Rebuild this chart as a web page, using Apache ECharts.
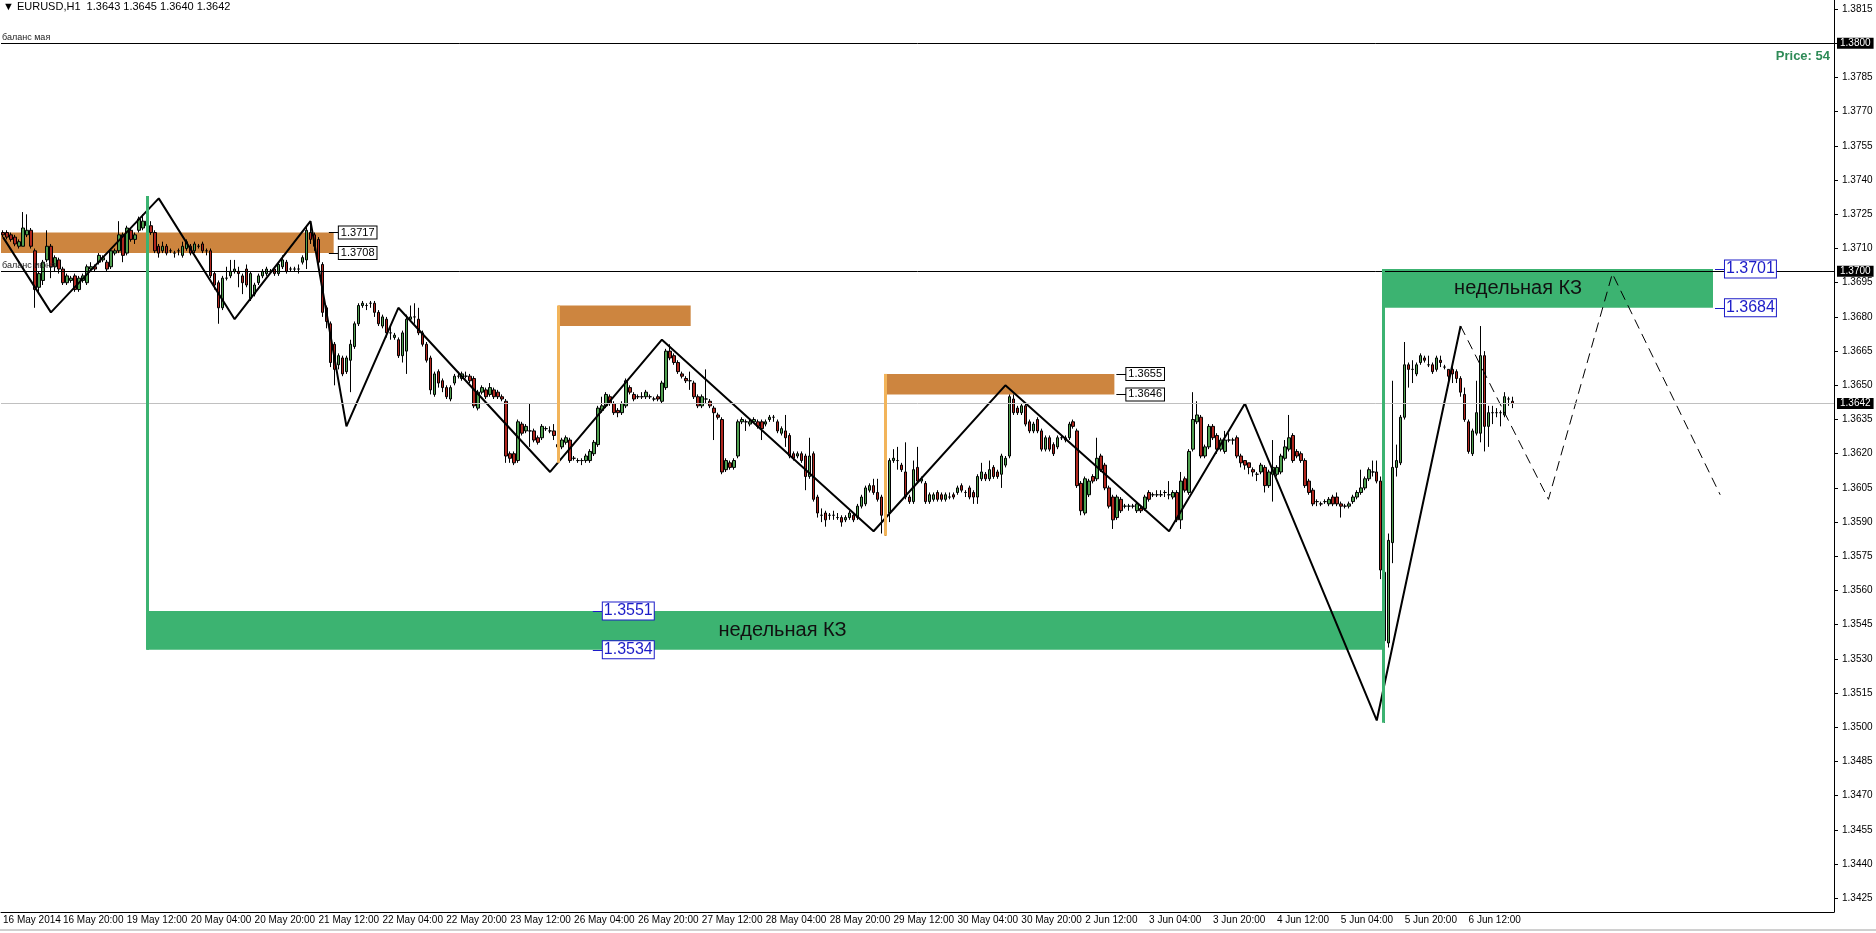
<!DOCTYPE html>
<html>
<head>
<meta charset="utf-8">
<title>EURUSD,H1</title>
<script src="https://cdn.jsdelivr.net/npm/echarts@6/dist/echarts.min.js"></script>
<style>
  html, body { margin: 0; padding: 0; background: #fff; }
  #chart { width: 1876px; height: 933px; }
</style>
</head>
<body>
<div id="chart"></div>
<script>
// H1 bars, first visible bar is 16 May 05:00, weekends skipped
const tradingDays = ['16 May', '19 May', '20 May', '21 May', '22 May', '23 May', '26 May', '27 May',
  '28 May', '29 May', '30 May', '2 Jun', '3 Jun', '4 Jun', '5 Jun', '6 Jun'];
const firstHour = 5;
const firstLabel = '16 May 2014';
const barCount = 459; // bars + empty shift area on the right
const labelEvery = 16;
const labelPhase = 15;
const lastLabelBar = 367;

// candles: [open, close, low, high]
const candles16May = [
  [1.3717,1.3716,1.3715,1.3718],[1.3717,1.3715,1.3714,1.3718],[1.3716,1.3714,1.3713,1.3717],
  [1.3715,1.3712,1.3711,1.3716],[1.3711,1.3713,1.3710,1.3714],[1.3711,1.3719,1.3711,1.3726],[1.3716,1.3718,1.3715,1.3725],
  [1.3718,1.3711,1.3710,1.3719],[1.3709,1.3692,1.3684,1.3710],[1.3693,1.3699,1.3690,1.3700],[1.3696,1.3704,1.3694,1.3705],
  [1.3705,1.3711,1.3704,1.3718],[1.3711,1.3702,1.3697,1.3712],[1.3702,1.3706,1.3700,1.3707],[1.3705,1.3701,1.3699,1.3706],
  [1.3701,1.3695,1.3694,1.3702],[1.3695,1.3698,1.3694,1.3699],[1.3696,1.3697,1.3695,1.3698],[1.3698,1.3692,1.3691,1.3699]
];
const candlesWeek19May = [
  [1.3692,1.3697,1.3691,1.3698],[1.3696,1.3698,1.3695,1.3699],[1.3695,1.3702,1.3694,1.3703],[1.3701,1.3702,1.3700,1.3704],
  [1.3702,1.3701,1.3700,1.3703],[1.3704,1.3707,1.3703,1.3708],[1.3705,1.3706,1.3704,1.3707],[1.3704,1.3701,1.3700,1.3705],
  [1.3702,1.3709,1.3701,1.3710],[1.3708,1.3709,1.3707,1.3710],[1.3709,1.3716,1.3708,1.3722],[1.3716,1.3707,1.3704,1.3717],
  [1.3708,1.3719,1.3707,1.3720],[1.3718,1.3714,1.3713,1.3719],[1.3714,1.3716,1.3712,1.3717],[1.3718,1.3723,1.3717,1.3724],
  [1.3719,1.3722,1.3718,1.3725],[1.3722,1.3720,1.3719,1.3733],[1.3720,1.3717,1.3716,1.3722],[1.3717,1.3709,1.3708,1.3718],
  [1.3711,1.3708,1.3706,1.3712],[1.3709,1.3711,1.3708,1.3713],[1.3711,1.3708,1.3707,1.3712],[1.3709,1.3709,1.3708,1.3710],
  [1.3708,1.3708,1.3706,1.3709],[1.3709,1.3709,1.3707,1.3710],[1.3707,1.3711,1.3706,1.3713],[1.3710,1.3713,1.3709,1.3714],
  [1.3711,1.3708,1.3707,1.3712],[1.3709,1.3712,1.3708,1.3713],[1.3711,1.3711,1.3710,1.3712],[1.3712,1.3709,1.3708,1.3713],
  [1.3709,1.3709,1.3707,1.3710],[1.3709,1.3698,1.3697,1.3710],[1.3699,1.3694,1.3692,1.3700],[1.3695,1.3684,1.3677,1.3696],
  [1.3684,1.3697,1.3683,1.3698],[1.3697,1.3697,1.3696,1.3702],[1.3698,1.3700,1.3697,1.3705],[1.3700,1.3701,1.3699,1.3705],
  [1.3700,1.3699,1.3693,1.3702],[1.3698,1.3695,1.3690,1.3699],[1.3701,1.3694,1.3693,1.3703],[1.3688,1.3699,1.3687,1.3700],
  [1.3690,1.3694,1.3689,1.3695],[1.3695,1.3698,1.3694,1.3699],[1.3698,1.3700,1.3697,1.3701],[1.3699,1.3701,1.3698,1.3702],
  [1.3700,1.3700,1.3699,1.3701],[1.3701,1.3699,1.3698,1.3702],[1.3699,1.3703,1.3698,1.3704],[1.3702,1.3705,1.3701,1.3707],
  [1.3704,1.3700,1.3699,1.3705],[1.3701,1.3701,1.3700,1.3702],[1.3701,1.3701,1.3700,1.3702],[1.3701,1.3701,1.3699,1.3703],
  [1.3704,1.3706,1.3703,1.3707],[1.3705,1.3718,1.3701,1.3720],[1.3717,1.3714,1.3712,1.3722],[1.3716,1.3711,1.3709,1.3717],
  [1.3714,1.3704,1.3702,1.3715],[1.3703,1.3682,1.3680,1.3704],[1.3684,1.3678,1.3675,1.3685],[1.3677,1.3660,1.3658,1.3678],
  [1.3668,1.3657,1.3650,1.3669],[1.3659,1.3663,1.3657,1.3664],[1.3662,1.3655,1.3654,1.3663],[1.3656,1.3662,1.3655,1.3663],
  [1.3661,1.3668,1.3647,1.3670],[1.3667,1.3677,1.3666,1.3678],[1.3677,1.3685,1.3676,1.3686],[1.3685,1.3686,1.3684,1.3687],
  [1.3685,1.3685,1.3683,1.3686],[1.3686,1.3686,1.3684,1.3687],[1.3686,1.3682,1.3680,1.3687],[1.3682,1.3677,1.3676,1.3683],
  [1.3676,1.3680,1.3675,1.3681],[1.3679,1.3673,1.3671,1.3680],[1.3673,1.3673,1.3670,1.3676],[1.3671,1.3672,1.3670,1.3673],
  [1.3670,1.3663,1.3662,1.3671],[1.3663,1.3673,1.3660,1.3674],[1.3665,1.3679,1.3655,1.3681],[1.3679,1.3680,1.3678,1.3685],
  [1.3680,1.3680,1.3677,1.3686],[1.3679,1.3673,1.3672,1.3684],[1.3673,1.3668,1.3667,1.3674],[1.3668,1.3661,1.3660,1.3669],
  [1.3662,1.3648,1.3646,1.3663],[1.3646,1.3655,1.3645,1.3656],[1.3656,1.3651,1.3649,1.3657],[1.3652,1.3649,1.3647,1.3653],
  [1.3649,1.3645,1.3644,1.3650],[1.3644,1.3649,1.3643,1.3650],[1.3651,1.3654,1.3650,1.3655],[1.3654,1.3654,1.3653,1.3656],
  [1.3653,1.3655,1.3652,1.3656],[1.3654,1.3654,1.3653,1.3656],[1.3654,1.3652,1.3651,1.3655],[1.3653,1.3641,1.3640,1.3654],
  [1.3640,1.3647,1.3639,1.3648],[1.3647,1.3649,1.3646,1.3650],[1.3648,1.3645,1.3644,1.3649],[1.3646,1.3649,1.3645,1.3651],
  [1.3648,1.3645,1.3644,1.3649],[1.3647,1.3645,1.3644,1.3648],[1.3645,1.3644,1.3643,1.3646],[1.3643,1.3619,1.3616,1.3644],
  [1.3620,1.3618,1.3616,1.3621],[1.3620,1.3616,1.3615,1.3621],[1.3617,1.3634,1.3616,1.3635],[1.3633,1.3629,1.3628,1.3634],
  [1.3630,1.3632,1.3629,1.3633],[1.3630,1.3630,1.3623,1.3642],[1.3630,1.3626,1.3625,1.3631],[1.3627,1.3625,1.3624,1.3628],
  [1.3627,1.3632,1.3626,1.3633],[1.3631,1.3631,1.3630,1.3632],[1.3630,1.3630,1.3629,1.3632],[1.3630,1.3628,1.3626,1.3633]
];
const candlesWeek26May = [
  [1.3624,1.3623,1.3616,1.3635],[1.3623,1.3626,1.3622,1.3627],[1.3625,1.3627,1.3624,1.3628],[1.3626,1.3617,1.3616,1.3627],
  [1.3618,1.3618,1.3617,1.3619],[1.3617,1.3617,1.3616,1.3618],[1.3617,1.3617,1.3615,1.3618],[1.3617,1.3619,1.3616,1.3620],
  [1.3617,1.3621,1.3616,1.3622],[1.3620,1.3625,1.3619,1.3626],[1.3624,1.3640,1.3623,1.3641],[1.3639,1.3641,1.3638,1.3645],
  [1.3641,1.3646,1.3640,1.3647],[1.3645,1.3642,1.3641,1.3646],[1.3642,1.3638,1.3637,1.3643],[1.3639,1.3638,1.3636,1.3640],
  [1.3638,1.3642,1.3637,1.3643],[1.3641,1.3652,1.3640,1.3653],[1.3649,1.3647,1.3646,1.3650],[1.3646,1.3644,1.3643,1.3647],
  [1.3645,1.3645,1.3644,1.3646],[1.3645,1.3645,1.3644,1.3647],[1.3645,1.3647,1.3644,1.3648],[1.3645,1.3645,1.3644,1.3646],
  [1.3644,1.3644,1.3643,1.3645],[1.3645,1.3644,1.3643,1.3646],[1.3643,1.3651,1.3642,1.3652],[1.3649,1.3665,1.3648,1.3666],
  [1.3665,1.3662,1.3661,1.3668],[1.3663,1.3660,1.3659,1.3664],[1.3660,1.3656,1.3655,1.3661],[1.3655,1.3654,1.3653,1.3656],
  [1.3653,1.3652,1.3651,1.3654],[1.3652,1.3652,1.3648,1.3656],[1.3651,1.3645,1.3644,1.3652],[1.3645,1.3641,1.3640,1.3646],
  [1.3641,1.3645,1.3640,1.3646],[1.3644,1.3644,1.3642,1.3657],[1.3643,1.3641,1.3640,1.3644],[1.3640,1.3638,1.3626,1.3641],
  [1.3637,1.3636,1.3635,1.3638],[1.3635,1.3612,1.3611,1.3636],[1.3613,1.3617,1.3612,1.3618],[1.3616,1.3614,1.3613,1.3617],
  [1.3614,1.3617,1.3613,1.3618],[1.3619,1.3634,1.3618,1.3635],[1.3634,1.3635,1.3633,1.3636],[1.3634,1.3634,1.3630,1.3635],
  [1.3633,1.3634,1.3632,1.3635],[1.3634,1.3635,1.3634,1.3636],[1.3634,1.3632,1.3631,1.3635],[1.3634,1.3631,1.3626,1.3635],
  [1.3633,1.3634,1.3632,1.3635],[1.3635,1.3636,1.3634,1.3637],[1.3636,1.3636,1.3634,1.3637],[1.3634,1.3630,1.3629,1.3635],
  [1.3629,1.3631,1.3628,1.3632],[1.3630,1.3627,1.3623,1.3637],[1.3628,1.3619,1.3618,1.3629],[1.3620,1.3618,1.3617,1.3621],
  [1.3619,1.3620,1.3618,1.3621],[1.3620,1.3617,1.3616,1.3621],[1.3619,1.3610,1.3604,1.3620],[1.3610,1.3619,1.3609,1.3627],
  [1.3620,1.3600,1.3599,1.3621],[1.3601,1.3594,1.3592,1.3602],[1.3593,1.3593,1.3590,1.3596],[1.3594,1.3591,1.3588,1.3595],
  [1.3593,1.3593,1.3591,1.3594],[1.3593,1.3593,1.3591,1.3595],[1.3592,1.3592,1.3591,1.3594],[1.3592,1.3590,1.3588,1.3593],
  [1.3591,1.3592,1.3590,1.3593],[1.3592,1.3594,1.3591,1.3595],[1.3593,1.3591,1.3590,1.3594],[1.3592,1.3597,1.3591,1.3598],
  [1.3597,1.3601,1.3596,1.3602],[1.3598,1.3605,1.3597,1.3606],[1.3604,1.3606,1.3603,1.3607],[1.3606,1.3603,1.3602,1.3609],
  [1.3603,1.3600,1.3599,1.3609],[1.3601,1.3593,1.3585,1.3602],[1.3592,1.3595,1.3584,1.3596],[1.3594,1.3617,1.3590,1.3618],
  [1.3617,1.3618,1.3616,1.3622],[1.3617,1.3617,1.3613,1.3623],[1.3615,1.3613,1.3612,1.3616],[1.3612,1.3601,1.3600,1.3625],
  [1.3601,1.3599,1.3598,1.3602],[1.3599,1.3613,1.3598,1.3617],[1.3614,1.3608,1.3607,1.3623],[1.3608,1.3609,1.3607,1.3610],
  [1.3607,1.3599,1.3598,1.3608],[1.3599,1.3602,1.3598,1.3603],[1.3600,1.3602,1.3599,1.3603],[1.3603,1.3600,1.3599,1.3604],
  [1.3602,1.3600,1.3599,1.3603],[1.3600,1.3602,1.3599,1.3603],[1.3601,1.3601,1.3600,1.3603],[1.3602,1.3601,1.3600,1.3603],
  [1.3603,1.3605,1.3602,1.3606],[1.3606,1.3604,1.3603,1.3607],[1.3603,1.3603,1.3601,1.3604],[1.3605,1.3601,1.3600,1.3606],
  [1.3603,1.3601,1.3598,1.3604],[1.3601,1.3610,1.3598,1.3611],[1.3609,1.3612,1.3608,1.3616],[1.3611,1.3609,1.3608,1.3612],
  [1.3609,1.3613,1.3608,1.3617],[1.3614,1.3610,1.3609,1.3615],[1.3612,1.3610,1.3609,1.3613],[1.3611,1.3619,1.3605,1.3620],
  [1.3615,1.3618,1.3614,1.3619],[1.3619,1.3645,1.3618,1.3646],[1.3644,1.3638,1.3637,1.3646],[1.3640,1.3638,1.3637,1.3641],
  [1.3638,1.3641,1.3637,1.3642],[1.3641,1.3633,1.3632,1.3642],[1.3634,1.3630,1.3629,1.3635],[1.3630,1.3633,1.3629,1.3634]
];
const candlesWeek2Jun = [
  [1.3635,1.3630,1.3629,1.3636],[1.3630,1.3622,1.3621,1.3631],[1.3622,1.3627,1.3621,1.3628],[1.3627,1.3622,1.3621,1.3628],
  [1.3624,1.3620,1.3619,1.3625],[1.3623,1.3627,1.3622,1.3628],[1.3627,1.3627,1.3626,1.3628],[1.3626,1.3627,1.3625,1.3628],
  [1.3627,1.3633,1.3626,1.3634],[1.3634,1.3632,1.3631,1.3635],[1.3630,1.3606,1.3605,1.3631],[1.3607,1.3595,1.3593,1.3608],
  [1.3594,1.3609,1.3593,1.3610],[1.3602,1.3608,1.3601,1.3609],[1.3610,1.3608,1.3607,1.3611],[1.3609,1.3618,1.3608,1.3627],
  [1.3619,1.3613,1.3612,1.3620],[1.3615,1.3605,1.3604,1.3616],[1.3605,1.3597,1.3596,1.3606],[1.3601,1.3591,1.3587,1.3602],
  [1.3592,1.3601,1.3591,1.3602],[1.3600,1.3595,1.3594,1.3601],[1.3597,1.3597,1.3596,1.3598],[1.3597,1.3597,1.3595,1.3598],
  [1.3597,1.3597,1.3596,1.3598],[1.3595,1.3598,1.3594,1.3599],[1.3596,1.3595,1.3594,1.3597],[1.3596,1.3601,1.3595,1.3602],
  [1.3603,1.3600,1.3599,1.3604],[1.3602,1.3602,1.3601,1.3603],[1.3602,1.3602,1.3601,1.3604],[1.3602,1.3602,1.3601,1.3604],
  [1.3603,1.3603,1.3601,1.3604],[1.3602,1.3602,1.3600,1.3608],[1.3601,1.3603,1.3600,1.3604],[1.3603,1.3591,1.3590,1.3604],
  [1.3591,1.3608,1.3587,1.3612],[1.3609,1.3604,1.3603,1.3610],[1.3603,1.3621,1.3602,1.3622],[1.3622,1.3635,1.3621,1.3647],
  [1.3634,1.3637,1.3633,1.3643],[1.3636,1.3619,1.3618,1.3637],[1.3619,1.3623,1.3618,1.3624],[1.3623,1.3632,1.3622,1.3633],
  [1.3632,1.3627,1.3626,1.3633],[1.3628,1.3622,1.3620,1.3629],[1.3622,1.3626,1.3621,1.3627],[1.3621,1.3626,1.3620,1.3630],
  [1.3626,1.3626,1.3625,1.3629],[1.3626,1.3626,1.3624,1.3627],[1.3627,1.3619,1.3618,1.3628],[1.3619,1.3616,1.3614,1.3620],
  [1.3617,1.3615,1.3613,1.3617],[1.3616,1.3614,1.3611,1.3616],[1.3613,1.3612,1.3610,1.3614],[1.3611,1.3611,1.3608,1.3612],
  [1.3612,1.3615,1.3611,1.3616],[1.3614,1.3606,1.3603,1.3615],[1.3606,1.3612,1.3605,1.3613],[1.3611,1.3614,1.3599,1.3626],
  [1.3611,1.3614,1.3610,1.3615],[1.3612,1.3619,1.3611,1.3620],[1.3618,1.3623,1.3617,1.3626],[1.3622,1.3627,1.3621,1.3637],
  [1.3628,1.3617,1.3616,1.3629],[1.3621,1.3619,1.3618,1.3622],[1.3620,1.3617,1.3616,1.3621],[1.3617,1.3606,1.3605,1.3618],
  [1.3608,1.3603,1.3602,1.3609],[1.3604,1.3598,1.3597,1.3605],[1.3599,1.3599,1.3597,1.3600],[1.3598,1.3598,1.3597,1.3599],
  [1.3599,1.3599,1.3598,1.3600],[1.3598,1.3600,1.3597,1.3601],[1.3601,1.3598,1.3597,1.3602],[1.3601,1.3598,1.3597,1.3603],
  [1.3598,1.3597,1.3592,1.3599],[1.3597,1.3597,1.3596,1.3598],[1.3597,1.3598,1.3596,1.3599],[1.3599,1.3601,1.3598,1.3602],
  [1.3601,1.3603,1.3600,1.3604],[1.3603,1.3605,1.3602,1.3613],[1.3605,1.3609,1.3604,1.3610],[1.3609,1.3613,1.3608,1.3614],
  [1.3612,1.3612,1.3610,1.3617],[1.3612,1.3608,1.3607,1.3617],[1.3608,1.3569,1.3565,1.3610],[1.3568,1.3538,1.3502,1.3575],
  [1.3537,1.3582,1.3535,1.3585],[1.3581,1.3614,1.3572,1.3652],[1.3614,1.3617,1.3610,1.3624],[1.3616,1.3636,1.3615,1.3637],
  [1.3636,1.3659,1.3635,1.3669],[1.3659,1.3657,1.3649,1.3660],[1.3657,1.3657,1.3651,1.3661],[1.3655,1.3659,1.3654,1.3660],
  [1.3660,1.3663,1.3659,1.3664],[1.3662,1.3661,1.3660,1.3663],[1.3659,1.3659,1.3658,1.3663],[1.3659,1.3656,1.3655,1.3660],
  [1.3657,1.3662,1.3656,1.3663],[1.3661,1.3660,1.3658,1.3663],[1.3658,1.3658,1.3657,1.3659],[1.3657,1.3654,1.3652,1.3657],
  [1.3657,1.3655,1.3651,1.3658],[1.3656,1.3653,1.3651,1.3657],[1.3653,1.3647,1.3645,1.3654],[1.3646,1.3635,1.3634,1.3649],
  [1.3634,1.3621,1.3620,1.3635],[1.3620,1.3630,1.3619,1.3631],[1.3629,1.3638,1.3628,1.3652],[1.3629,1.3663,1.3625,1.3676],
  [1.3663,1.3632,1.3621,1.3665],[1.3632,1.3638,1.3623,1.3641],[1.3638,1.3638,1.3633,1.3641],[1.3638,1.3638,1.3636,1.3640],
  [1.3638,1.3638,1.3632,1.3639],[1.3637,1.3645,1.3636,1.3647],[1.3644,1.3644,1.3641,1.3645],[1.3643,1.3642,1.3640,1.3645]
];

// price scale labels
const yTicks = [1.3425, 1.3440, 1.3455, 1.3470, 1.3485, 1.3500, 1.3515, 1.3530, 1.3545, 1.3560,
  1.3575, 1.3590, 1.3605, 1.3620, 1.3635, 1.3650, 1.3665, 1.3680, 1.3695, 1.3710, 1.3725,
  1.3740, 1.3755, 1.3770, 1.3785, 1.3800, 1.3815];

// zigzag (bar index, price) and the dashed projection
const zigzagBars = [0, 12, 39, 58, 77, 86, 99, 137, 165, 218, 251, 292, 311, 344, 365];
const zigzagPrices = [1.3715, 1.3682, 1.3732, 1.3679, 1.3722, 1.3632, 1.3684, 1.3612, 1.3670,
  1.3586, 1.3650, 1.3586, 1.3642, 1.3503, 1.3676];
const projBars = [365, 387, 403, 430];
const projPrices = [1.3676, 1.3600, 1.3699, 1.3602];

// rectangles: orange supply zones and green weekly zones (недельная КЗ)
const zoneKind = ['supply', 'supply', 'supply', 'weekly', 'weekly'];
const zoneFrom = [-0.5, 139, 221, 36, 345.6];
const zoneTo = [82.8, 172.2, 278.3, 345.9, 428.2];
const zoneHigh = [1.3717, 1.3685, 1.3655, 1.3551, 1.3701];
const zoneLow = [1.3708, 1.3676, 1.3646, 1.3534, 1.3684];
const zoneAnchor = [null, 1.3616, 1.3584, 1.3733, 1.3502]; // where the vertical line ends
const zoneLabelBar = [81.6, null, 278.8, 147.7, 428.7];
const weeklyTextBar = [195.2, 379.4];

// horizontal levels
const levelPrices = [1.3800, 1.3700];
const levelNames = ['баланс мая', 'баланс июня'];
const bidPrice = 1.3642;
const priceInfo = 'Price: 54';

const font = '"Liberation Sans", Arial, sans-serif';
const bullColor = '#4f9f4f';
const bearColor = '#b0261e';
const supplyColor = '#cd853f';
const supplyLineColor = '#f2b45a';
const weeklyColor = '#3cb371';
const blueText = '#1c1cc8';

const categories = [];
tradingDays.forEach((d, k) => {
  for (let h = (k === 0 ? firstHour : 0); h < 24; h++) {
    categories.push(d + ' ' + String(h).padStart(2, '0') + ':00');
  }
});
while (categories.length < barCount) categories.push('');

const candles = [].concat(candles16May, candlesWeek19May, candlesWeek26May, candlesWeek2Jun);
const last = candles[candles.length - 1];
const header = '\u25BC EURUSD,H1  ' + [last[0], last[3], last[2], last[1]].map(v => v.toFixed(4)).join(' ');

const showLabel = (idx) => idx === 0 || (idx % labelEvery === labelPhase && idx <= lastLabelBar);

// zones
const areaData = zoneKind.map((k, i) => [
  { xAxis: zoneFrom[i], yAxis: zoneHigh[i], itemStyle: { color: k === 'supply' ? supplyColor : weeklyColor } },
  { xAxis: zoneTo[i], yAxis: zoneLow[i] }
]);

// verticals + price tags of zones
const overlayLines = [];
zoneKind.forEach((k, i) => {
  if (zoneAnchor[i] !== null) {
    const top = Math.max(zoneHigh[i], zoneAnchor[i]);
    const bottom = Math.min(zoneLow[i], zoneAnchor[i]);
    overlayLines.push([
      { coord: [zoneFrom[i], top], lineStyle: { color: k === 'supply' ? supplyLineColor : weeklyColor, width: 3, type: 'solid' }, label: { show: false } },
      { coord: [zoneFrom[i], bottom] }
    ]);
  }
  if (zoneLabelBar[i] !== null) {
    const weekly = k === 'weekly';
    [zoneHigh[i], zoneLow[i]].forEach(p => {
      overlayLines.push([
        {
          coord: [zoneLabelBar[i], p],
          lineStyle: { color: weekly ? blueText : '#000', width: 1, type: 'solid' },
          label: {
            show: true, position: 'end', distance: 0, formatter: p.toFixed(4),
            fontFamily: font, fontSize: weekly ? 16 : 11, color: weekly ? blueText : '#000',
            backgroundColor: '#fff', borderColor: weekly ? blueText : '#000', borderWidth: 1,
            padding: weekly ? [1, 1, 0, 1] : [1, 2, 0, 2]
          }
        },
        { coord: [zoneLabelBar[i] + 2.5, p] }
      ]);
    });
  }
});

// horizontal levels
const levelLines = [];
levelPrices.forEach((p, i) => {
  levelLines.push({
    yAxis: p, lineStyle: { color: '#000', width: 1, type: 'solid' },
    label: { show: true, position: 'end', distance: 3, formatter: p.toFixed(4), fontFamily: font, fontSize: 10,
      color: '#fff', backgroundColor: '#000', padding: [1, 3, 0, 3] }
  });
  levelLines.push({
    yAxis: p, lineStyle: { color: 'rgba(0,0,0,0)', width: 1 },
    label: { show: true, position: 'insideStartTop', distance: 1, formatter: levelNames[i], fontFamily: font,
      fontSize: 9, color: '#222', padding: [0, 0, 0, 0] }
  });
});
levelLines.push({
  yAxis: bidPrice, lineStyle: { color: '#c0c0c0', width: 1, type: 'solid' },
  label: { show: true, position: 'end', distance: 3, formatter: bidPrice.toFixed(4), fontFamily: font, fontSize: 10,
    color: '#fff', backgroundColor: '#000', padding: [1, 3, 0, 3] }
});

const chart = echarts.init(document.getElementById('chart'), null, { renderer: 'canvas' });

chart.setOption({
  animation: false,
  backgroundColor: '#fff',
  textStyle: { fontFamily: font },
  grid: { left: 0, right: 42, top: 0, bottom: 21 },
  xAxis: [
    {
      type: 'category',
      data: categories,
      boundaryGap: true,
      axisLine: { onZero: false, lineStyle: { color: '#000', width: 1 } },
      axisTick: { interval: showLabel, alignWithLabel: true, length: 4, lineStyle: { color: '#000' } },
      axisLabel: {
        interval: showLabel,
        formatter: (v, idx) => (idx === 0 ? firstLabel : v),
        align: 'left', margin: 3,
        fontFamily: font, fontSize: 10, color: '#000'
      },
      splitLine: { show: false }
    },
    { type: 'value', min: -0.5, max: barCount - 0.5, show: false }
  ],
  yAxis: {
    type: 'value',
    position: 'right',
    min: 1.3419,
    max: 1.3819,
    axisLine: { show: true, onZero: false, lineStyle: { color: '#000', width: 1 } },
    axisTick: { show: true, inside: false, customValues: yTicks, length: 4, lineStyle: { color: '#000' } },
    axisLabel: { customValues: yTicks, formatter: v => v.toFixed(4), margin: 8, fontFamily: font, fontSize: 10, color: '#000' },
    splitLine: { show: false }
  },
  graphic: [
    { type: 'text', left: 3, top: 1, style: { text: header, font: '11px ' + font, fill: '#000' } },
    { type: 'text', right: 46, top: 50, style: { text: priceInfo, font: 'bold 13px ' + font, fill: '#2e8b57' } },
    { type: 'line', shape: { x1: 0, y1: 930, x2: 1876, y2: 930 }, style: { stroke: '#a0a0a0', lineWidth: 1 } }
  ],
  series: [
    {
      name: 'zones', type: 'line', xAxisIndex: 1, data: [], silent: true, z: 1,
      markArea: { silent: true, data: areaData }
    },
    {
      name: 'levels', type: 'line', xAxisIndex: 1, data: [], silent: true, z: 2,
      markLine: { silent: true, precision: 4, symbol: ['none', 'none'], animation: false, data: levelLines }
    },
    {
      name: 'EURUSD,H1', type: 'candlestick', data: candles, barWidth: 3, z: 3,
      itemStyle: { color: bullColor, color0: bearColor, borderColor: '#000', borderColor0: '#000', borderWidth: 1 }
    },
    {
      name: 'zigzag', type: 'line', xAxisIndex: 1, z: 4, silent: true, symbol: 'none',
      data: zigzagBars.map((b, i) => [b, zigzagPrices[i]]),
      lineStyle: { color: '#000', width: 2 }
    },
    {
      name: 'projection', type: 'line', xAxisIndex: 1, z: 4, silent: true, symbol: 'none',
      data: projBars.map((b, i) => [b, projPrices[i]]),
      lineStyle: { color: '#000', width: 1, type: [10, 6] }
    },
    {
      name: 'overlay', type: 'line', xAxisIndex: 1, data: [], silent: true, z: 5,
      markLine: { silent: true, precision: 4, symbol: ['none', 'none'], animation: false, data: overlayLines },
      markPoint: {
        silent: true, symbol: 'rect', symbolSize: 1, itemStyle: { color: 'rgba(0,0,0,0)' },
        label: { show: true, position: 'inside', formatter: 'недельная КЗ', fontFamily: font, fontSize: 20, color: '#111' },
        data: weeklyTextBar.map((b, i) => {
          const z = zoneKind.indexOf('weekly') + i;
          return { coord: [b, (zoneHigh[z] + zoneLow[z]) / 2] };
        })
      }
    }
  ]
});
</script>
</body>
</html>
